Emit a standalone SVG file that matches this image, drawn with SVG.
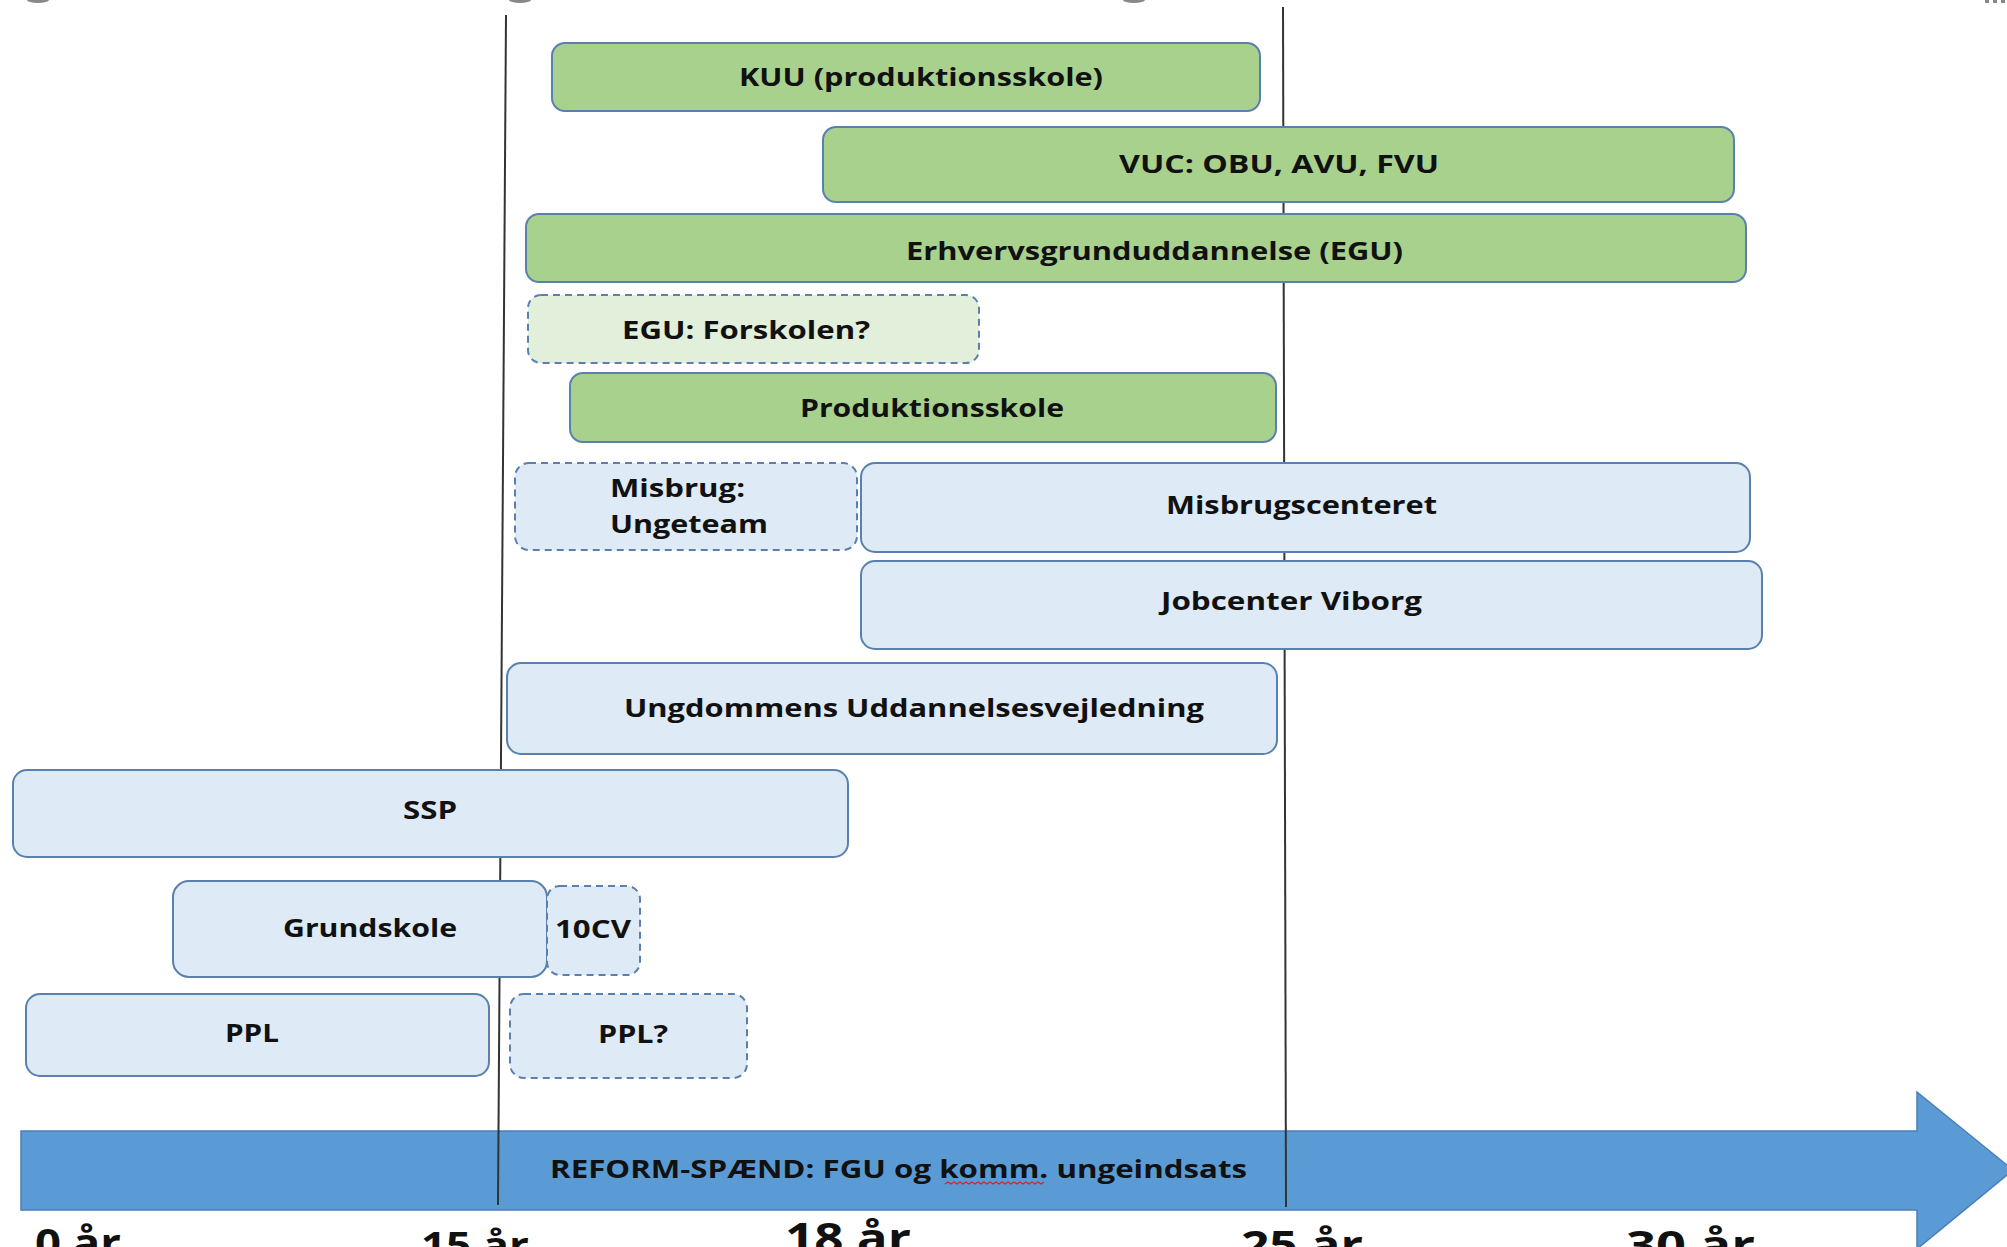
<svg xmlns="http://www.w3.org/2000/svg" width="2007" height="1247" viewBox="0 0 2007 1247">
<style>
.g{fill:#A9D18E;stroke:#5A80AE;stroke-width:2}
.lg{fill:#E2EFDA;stroke:#5A80AE;stroke-width:2;stroke-dasharray:7 5}
.b{fill:#DEEAF6;stroke:#5A80AE;stroke-width:2}
.bd{fill:#DEEAF6;stroke:#5A80AE;stroke-width:2;stroke-dasharray:7 5}
.t{font-family:"Open Sans","Liberation Sans",sans-serif;font-weight:700;font-size:25px;fill:#111}
.ax{font-family:"Open Sans","Liberation Sans",sans-serif;font-weight:700;fill:#111}
.vl{stroke:#333;stroke-width:2;fill:none}
</style>
<rect width="2007" height="1247" fill="#fff"/>
<g id="top-fragments" fill="#888">
<ellipse cx="38" cy="0" rx="11" ry="3"/>
<ellipse cx="520" cy="0" rx="11" ry="3"/>
<ellipse cx="1134" cy="0" rx="11" ry="3"/>
<rect x="1985" y="0" width="4" height="3"/>
<rect x="1993" y="0" width="4" height="3"/>
<rect x="2001" y="0" width="4" height="3"/>
</g>
<g id="timeline-arrow">
<polygon points="21,1131 1917,1131 1917,1092 2013,1170 1917,1249 1917,1210 21,1210" fill="#5B9BD5" stroke="#4A7EBB" stroke-width="1.5"/>
<text class="t" x="550" y="1178" textLength="697" lengthAdjust="spacingAndGlyphs">REFORM-SPÆND: FGU og komm. ungeindsats</text>
<path d="M945,1184 l3,-2 l3,2 l3,-2 l3,2 l3,-2 l3,2 l3,-2 l3,2 l3,-2 l3,2 l3,-2 l3,2 l3,-2 l3,2 l3,-2 l3,2 l3,-2 l3,2 l3,-2 l3,2 l3,-2 l3,2 l3,-2 l3,2 l3,-2 l3,2 l3,-2 l3,2 l3,-2 l3,2 l3,-2 l3,2 l3,-2" fill="none" stroke="#E02020" stroke-width="1.2"/>
</g>
<g id="connectors">
<line class="vl" x1="506" y1="15" x2="498" y2="1205"/>
<line class="vl" x1="1283" y1="7" x2="1286" y2="1207"/>
</g>
<g id="kuu"><rect class="g" x="552" y="43" width="708" height="68" rx="13"/><text class="t" x="739" y="86" textLength="364" lengthAdjust="spacingAndGlyphs">KUU (produktionsskole)</text></g>
<g id="vuc"><rect class="g" x="823" y="127" width="911" height="75" rx="13"/><text class="t" x="1119" y="173" textLength="320" lengthAdjust="spacingAndGlyphs">VUC: OBU, AVU, FVU</text></g>
<g id="egu"><rect class="g" x="526" y="214" width="1220" height="68" rx="13"/><text class="t" x="906" y="260" textLength="497" lengthAdjust="spacingAndGlyphs">Erhvervsgrunduddannelse (EGU)</text></g>
<g id="egu-forskolen"><rect class="lg" x="528" y="295" width="451" height="68" rx="13"/><text class="t" x="622" y="339" textLength="248" lengthAdjust="spacingAndGlyphs">EGU: Forskolen?</text></g>
<g id="produktionsskole"><rect class="g" x="570" y="373" width="706" height="69" rx="13"/><text class="t" x="800" y="417" textLength="264" lengthAdjust="spacingAndGlyphs">Produktionsskole</text></g>
<g id="misbrug-ungeteam"><rect class="bd" x="515" y="463" width="342" height="87" rx="14"/><text class="t" x="610" y="497" textLength="135" lengthAdjust="spacingAndGlyphs">Misbrug:</text><text class="t" x="610" y="533" textLength="158" lengthAdjust="spacingAndGlyphs">Ungeteam</text></g>
<g id="misbrugscenteret"><rect class="b" x="861" y="463" width="889" height="89" rx="14"/><text class="t" x="1166" y="514" textLength="271" lengthAdjust="spacingAndGlyphs">Misbrugscenteret</text></g>
<g id="jobcenter"><rect class="b" x="861" y="561" width="901" height="88" rx="14"/><text class="t" x="1161" y="610" textLength="261" lengthAdjust="spacingAndGlyphs">Jobcenter Viborg</text></g>
<g id="uu"><rect class="b" x="507" y="663" width="770" height="91" rx="14"/><text class="t" x="624" y="717" textLength="580" lengthAdjust="spacingAndGlyphs">Ungdommens Uddannelsesvejledning</text></g>
<g id="ssp"><rect class="b" x="13" y="770" width="835" height="87" rx="14"/><text class="t" x="403" y="819" textLength="54" lengthAdjust="spacingAndGlyphs">SSP</text></g>
<g id="grundskole"><rect class="b" x="173" y="881" width="374" height="96" rx="16"/><text class="t" x="283" y="937" textLength="174" lengthAdjust="spacingAndGlyphs">Grundskole</text></g>
<g id="tiendecv"><rect class="bd" x="547" y="886" width="93" height="89" rx="13"/><text class="t" x="555" y="938" textLength="76" lengthAdjust="spacingAndGlyphs">10CV</text></g>
<g id="ppl"><rect class="b" x="26" y="994" width="463" height="82" rx="14"/><text class="t" x="225" y="1042" textLength="54" lengthAdjust="spacingAndGlyphs">PPL</text></g>
<g id="ppl-q"><rect class="bd" x="510" y="994" width="237" height="84" rx="14"/><text class="t" x="598" y="1043" textLength="70" lengthAdjust="spacingAndGlyphs">PPL?</text></g>
<g id="axis-labels">
<text class="ax" x="35" y="1257" font-size="40" textLength="86" lengthAdjust="spacingAndGlyphs">0 år</text>
<text class="ax" x="421" y="1258" font-size="36" textLength="108" lengthAdjust="spacingAndGlyphs">15 år</text>
<text class="ax" x="785" y="1253" font-size="42" textLength="126" lengthAdjust="spacingAndGlyphs">18 år</text>
<text class="ax" x="1241" y="1259" font-size="40" textLength="122" lengthAdjust="spacingAndGlyphs">25 år</text>
<text class="ax" x="1626" y="1259" font-size="40" textLength="129" lengthAdjust="spacingAndGlyphs">30 år</text>
</g>
</svg>
